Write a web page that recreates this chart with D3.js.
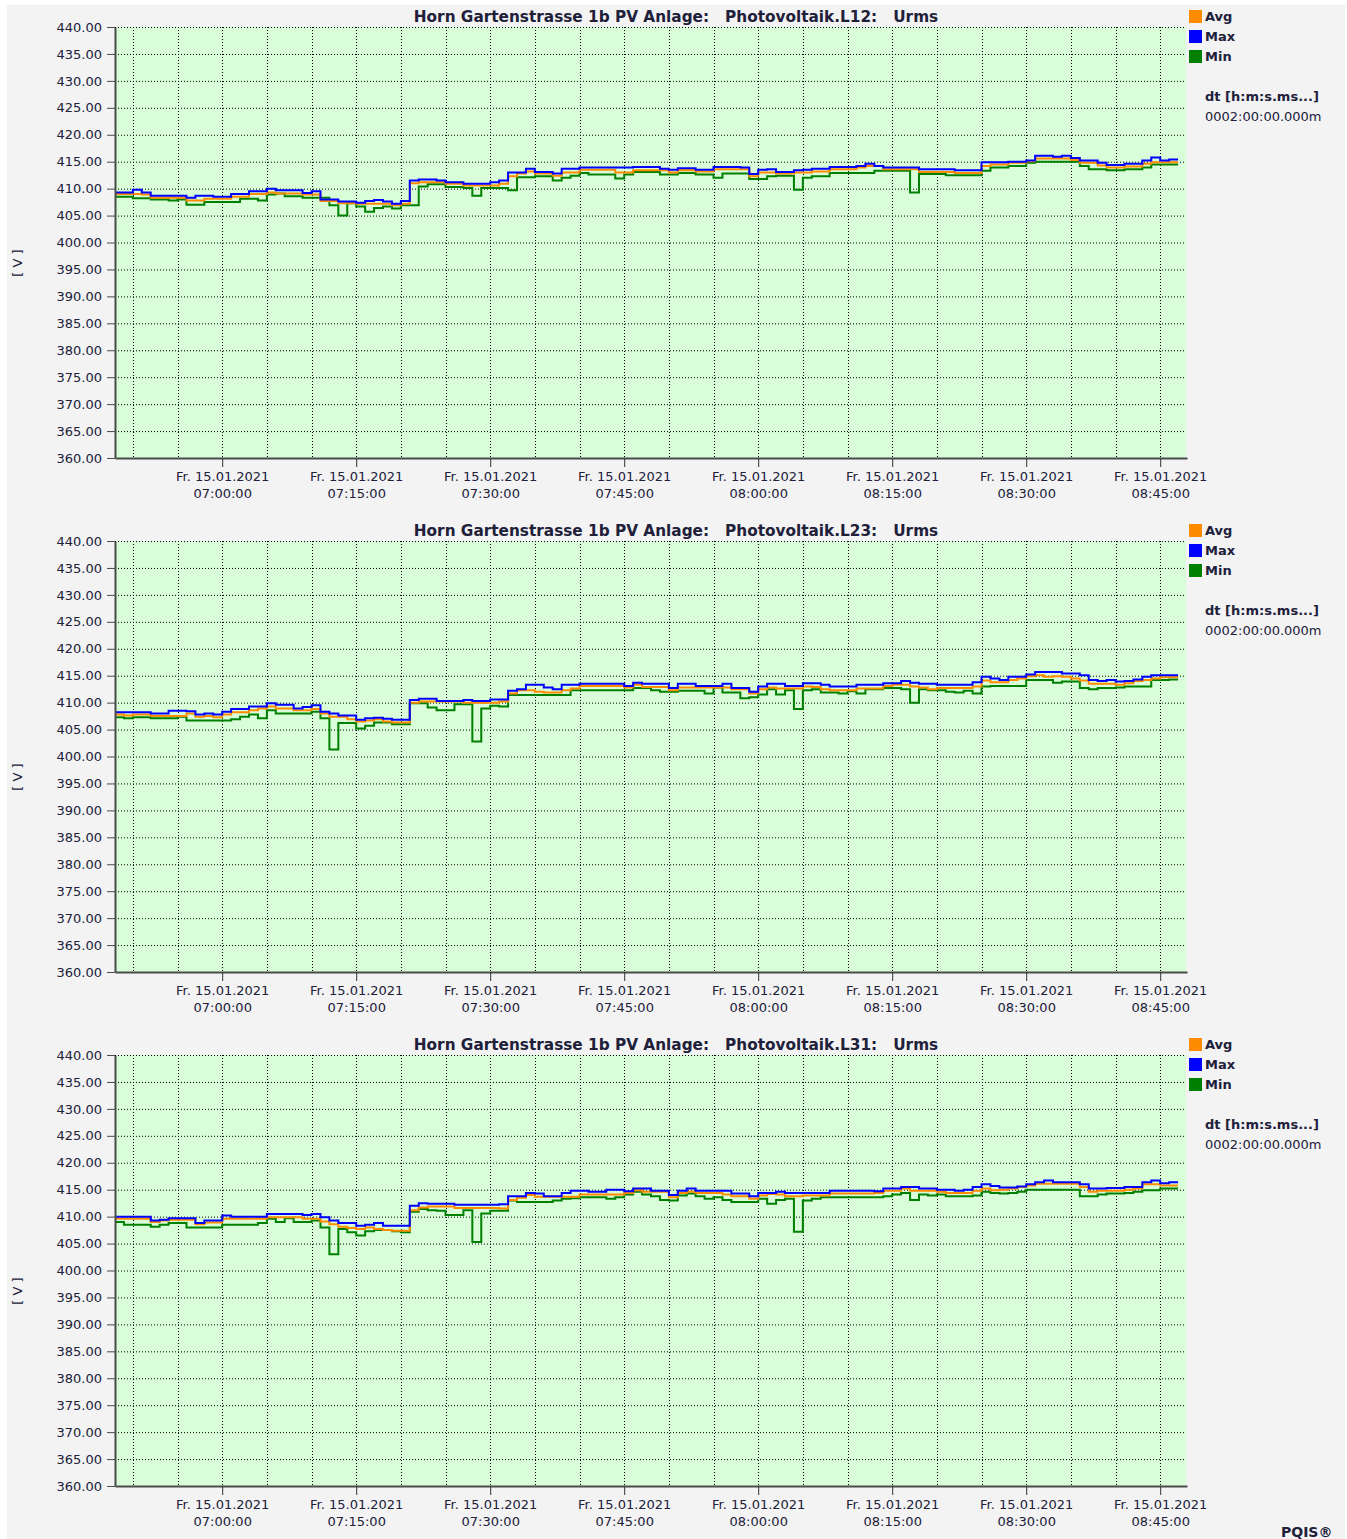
<!DOCTYPE html>
<html>
<head>
<meta charset="utf-8">
<script src="https://cdn.jsdelivr.net/npm/d3@7"></script>
<style>
  body { margin: 0; background: #fff; }
  svg text { font-family: "DejaVu Sans", sans-serif; fill: #20203a; }
</style>
</head>
<body>
<svg id="chart" width="1347" height="1539"></svg>
<script>
// Urms per minute, 15.01.2021 06:48 .. 08:47 (one value per minute)

const station = "Horn Gartenstrasse 1b PV Anlage:";
const quantity = "Urms";
const phases = ["Photovoltaik.L12", "Photovoltaik.L23", "Photovoltaik.L31"];
const seriesNames = ["Avg", "Max", "Min"];
const yTicks = [360, 365, 370, 375, 380, 385, 390, 395, 400, 405, 410, 415, 420, 425, 430, 435, 440];
const weekdays = ["So.", "Mo.", "Di.", "Mi.", "Do.", "Fr.", "Sa."];
const startTime = new Date(2021, 0, 15, 6, 48, 0);
const endTime = new Date(2021, 0, 15, 8, 48, 0);

const maxL12 = [
  409.3,409.3,409.8,409.3,408.7,408.7,408.7,408.7,408.3,408.7,
  408.7,408.5,408.5,409.0,409.0,409.5,409.5,410.0,409.7,409.7,
  409.7,409.2,409.5,408.0,408.0,407.6,407.6,407.4,407.7,407.9,
  407.6,407.2,407.7,411.5,411.7,411.7,411.5,411.2,411.2,410.9,
  410.9,410.9,411.2,411.5,413.0,413.0,413.7,413.1,413.1,412.8,
  413.7,413.7,413.9,413.9,413.9,413.9,413.9,413.9,414.0,414.0,
  414.0,413.7,413.5,413.8,413.8,413.5,413.5,414.0,414.0,414.0,
  413.9,412.7,413.5,413.6,413.1,413.1,413.4,413.5,413.7,413.7,
  414.0,414.0,414.0,414.2,414.6,414.2,413.9,413.9,413.9,413.9,
  413.6,413.6,413.6,413.6,413.4,413.4,413.4,414.9,414.9,414.9,
  415.0,415.0,415.2,416.1,416.1,415.9,416.1,415.7,415.2,415.2,
  414.8,414.4,414.4,414.6,414.6,415.2,415.8,415.2,415.4
];
const avgL12 = [
  409.0,409.0,409.0,408.9,408.3,408.3,408.3,408.3,407.8,407.8,
  408.1,408.1,408.1,408.5,408.5,409.0,409.0,409.3,409.1,409.1,
  409.1,408.9,408.9,407.7,407.7,407.3,407.3,407.2,407.2,407.2,
  407.2,406.9,407.2,411.0,411.2,411.2,411.2,410.9,410.9,410.6,
  410.6,410.6,410.6,410.9,412.3,412.8,413.2,412.8,412.8,412.4,
  413.0,413.0,413.5,413.5,413.5,413.5,413.0,413.0,413.4,413.4,
  413.4,413.4,413.0,413.4,413.4,413.2,413.2,413.6,413.6,413.6,
  413.6,412.3,413.0,413.0,412.8,412.8,413.0,413.0,413.2,413.2,
  413.6,413.6,413.6,413.9,414.2,414.2,413.6,413.6,413.6,413.6,
  413.1,413.1,413.1,413.1,412.9,412.9,412.9,414.2,414.5,414.5,
  414.8,414.8,415.1,415.6,415.6,415.6,415.6,415.3,414.8,414.8,
  414.3,413.9,413.9,414.1,414.1,414.6,414.9,414.9,414.9
];
const minL12 = [
  408.5,408.5,408.2,408.2,408.0,408.0,407.8,408.0,407.0,407.0,
  407.5,407.5,407.5,407.5,408.1,408.1,407.8,408.9,409.1,408.6,
  408.6,408.3,408.3,408.3,406.9,405.0,407.3,406.7,405.7,406.4,
  406.7,406.3,406.9,406.9,410.4,410.8,410.8,410.3,410.3,410.1,
  408.7,410.1,410.1,410.1,409.7,412.1,412.1,412.3,412.3,411.5,
  412.0,412.4,412.9,412.6,412.6,412.6,411.9,412.6,413.1,413.1,
  413.1,412.6,412.6,412.9,412.9,412.6,412.6,412.0,412.8,412.8,
  412.8,411.8,411.8,412.3,412.4,412.4,409.8,412.0,412.3,412.3,
  412.9,412.9,412.9,412.9,412.9,413.3,413.3,413.3,413.3,409.3,
  412.7,412.7,412.7,412.5,412.5,412.5,412.5,413.3,413.9,413.9,
  414.2,414.2,414.8,415.0,415.0,415.0,415.0,415.0,414.2,413.6,
  413.6,413.4,413.4,413.6,413.6,413.9,414.5,414.5,414.5
];

const maxL23 = [
  408.2,408.2,408.2,408.2,408.0,408.0,408.5,408.5,408.4,407.8,
  408.0,407.8,408.3,408.8,408.8,409.3,409.3,409.9,409.6,409.6,
  408.9,409.2,409.5,408.3,408.0,407.6,407.6,406.8,407.1,407.2,
  407.0,406.8,406.8,410.5,410.7,410.7,410.3,410.3,410.3,410.5,
  410.3,410.3,410.6,410.6,412.2,412.5,413.3,413.3,412.8,412.5,
  413.3,413.3,413.5,413.5,413.5,413.5,413.5,413.1,413.7,413.5,
  413.5,413.5,412.7,413.5,413.5,413.1,413.1,413.1,413.5,412.7,
  412.7,412.0,413.0,413.5,413.5,413.1,413.1,413.6,413.6,413.3,
  413.0,413.0,413.0,413.3,413.3,413.3,413.6,413.6,414.0,413.7,
  413.5,413.5,413.3,413.3,413.3,413.3,413.8,414.8,414.5,414.2,
  414.8,414.8,415.2,415.7,415.7,415.7,415.4,415.4,415.1,414.2,
  414.0,414.2,413.9,414.0,414.3,414.8,415.1,415.1,415.1
];
const avgL23 = [
  407.8,407.6,407.8,407.8,407.5,407.5,407.5,407.5,408.0,407.4,
  407.5,407.3,407.8,408.2,408.2,408.6,408.9,409.3,408.9,408.9,
  408.6,408.6,408.8,408.0,407.4,407.4,406.9,406.5,406.7,406.9,
  406.5,406.3,406.3,410.0,410.2,410.2,410.2,410.2,410.2,410.0,
  410.0,410.0,410.0,410.2,411.7,412.3,412.3,412.0,411.9,411.9,
  412.3,412.6,413.1,413.1,413.1,413.1,413.1,412.8,413.3,412.9,
  412.9,412.9,412.3,412.8,412.8,412.8,412.8,412.8,412.8,412.5,
  412.5,411.7,412.5,412.8,412.6,412.6,412.6,413.0,412.9,412.5,
  412.3,412.3,412.3,412.6,412.6,412.6,413.1,413.3,413.3,413.0,
  412.8,412.5,412.7,412.7,412.7,412.7,413.0,414.1,413.8,413.8,
  414.2,414.5,414.9,415.1,414.8,414.9,414.8,414.5,414.1,413.5,
  413.5,413.5,413.3,413.6,414.0,414.2,414.5,414.7,414.7
];
const minL23 = [
  407.3,407.1,407.3,407.3,407.1,407.1,407.1,407.4,406.7,406.7,
  406.7,406.7,406.7,406.9,407.4,407.8,407.1,408.6,408.0,408.0,
  408.0,408.0,408.3,407.1,401.3,406.2,406.2,405.2,405.7,406.3,
  406.3,406.0,406.0,409.9,409.9,409.1,408.6,408.6,409.7,409.7,
  402.8,408.9,409.4,409.3,411.4,411.4,411.4,411.4,411.4,411.4,
  411.4,412.3,412.3,412.3,412.3,412.3,412.3,412.3,412.7,412.7,
  412.3,412.0,412.0,412.2,412.2,412.2,411.7,412.8,411.9,411.9,
  410.8,411.0,411.5,412.5,411.5,412.3,408.8,412.3,412.5,411.9,
  411.9,411.7,412.1,411.7,412.5,412.5,412.7,412.7,412.5,410.0,
  412.5,412.3,412.3,412.0,411.9,412.2,411.7,413.0,413.1,413.1,
  413.1,413.1,414.2,414.2,414.2,413.7,413.9,413.9,412.7,412.5,
  412.7,412.7,412.8,413.0,413.0,413.0,414.2,414.2,414.3
];

const maxL31 = [
  410.0,410.0,410.0,410.0,409.3,409.4,409.7,409.7,409.7,408.8,
  409.3,409.3,410.2,410.0,410.0,410.0,410.0,410.5,410.5,410.5,
  410.5,410.3,410.5,409.9,409.3,408.8,408.8,408.3,408.5,408.8,
  408.3,408.3,408.3,412.0,412.5,412.4,412.4,412.4,412.2,412.2,
  412.2,412.2,412.2,412.3,413.8,413.8,414.4,414.3,413.8,413.8,
  414.4,414.8,414.8,414.6,414.6,415.0,415.0,414.7,415.2,415.2,
  414.8,414.8,414.0,414.8,415.2,414.8,414.8,414.8,414.8,414.3,
  414.3,413.8,414.4,414.4,414.6,414.4,414.4,414.4,414.4,414.4,
  414.8,414.8,414.8,414.8,414.8,414.7,415.2,415.2,415.5,415.5,
  415.2,415.2,415.0,415.0,414.8,415.0,415.5,416.0,415.7,415.4,
  415.4,415.6,416.0,416.4,416.7,416.4,416.4,416.4,416.0,415.2,
  415.2,415.3,415.3,415.5,415.5,416.4,416.7,416.2,416.4
];
const avgL31 = [
  409.6,409.6,409.6,409.6,409.0,409.3,409.4,409.4,409.4,408.6,
  408.9,408.9,409.6,409.6,409.6,409.6,409.6,409.9,409.9,409.9,
  409.9,409.6,409.6,409.1,408.6,408.1,407.9,407.7,408.0,407.7,
  407.5,407.4,407.4,411.2,411.7,411.9,411.9,411.9,411.6,411.6,
  411.6,411.6,411.6,411.5,413.1,413.5,414.0,413.7,413.7,413.7,
  413.7,413.7,414.1,414.1,414.1,414.1,414.1,414.4,414.9,414.6,
  414.6,414.6,413.6,414.4,414.6,414.4,414.4,414.4,414.1,413.8,
  413.8,413.3,413.9,414.2,414.1,413.8,413.8,413.9,413.9,413.9,
  414.3,414.3,414.3,414.3,414.3,414.4,414.8,414.8,415.2,414.8,
  414.8,414.8,414.6,414.4,414.4,414.4,414.8,415.2,414.9,415.0,
  415.2,415.5,415.8,416.1,416.1,416.1,416.1,416.1,415.5,414.6,
  414.8,414.8,414.8,415.0,415.2,416.0,416.0,415.8,415.8
];
const minL31 = [
  409.0,408.5,408.5,408.5,408.1,408.5,408.8,408.8,408.0,408.0,
  408.0,408.0,408.5,408.5,408.5,408.5,408.8,409.6,409.0,409.7,
  409.0,409.0,409.3,408.0,403.0,407.7,407.1,406.5,407.3,407.5,
  407.5,407.3,407.1,410.9,411.4,411.2,411.1,410.3,410.3,411.2,
  405.3,410.6,411.1,411.1,413.0,412.7,412.7,412.7,412.7,413.0,
  413.3,413.4,413.6,413.6,413.6,413.3,413.6,414.1,414.6,414.1,
  413.8,413.1,413.0,413.9,414.3,413.8,413.3,413.6,413.1,412.7,
  412.7,412.7,413.3,412.4,413.1,413.3,407.2,413.0,413.3,413.6,
  413.6,413.6,413.6,413.6,413.6,413.6,413.8,414.1,414.4,413.1,
  414.1,413.9,414.1,413.8,413.8,413.8,413.9,414.6,414.4,414.3,
  414.4,414.6,415.0,415.0,415.0,415.0,415.0,415.0,413.8,413.8,
  414.1,414.3,414.3,414.4,414.6,414.9,414.9,415.2,415.2
];

const charts = [
  { phase: phases[0], series: [avgL12, maxL12, minL12] },
  { phase: phases[1], series: [avgL23, maxL23, minL23] },
  { phase: phases[2], series: [avgL31, maxL31, minL31] }
];

// layout
const colors = { Avg: "#ff8c00", Max: "#0000ff", Min: "#008000" };
const left = 115, right = 1187;
const plotHeight = 431;
const chartTops = [27, 541, 1055];

const svg = d3.select("#chart");

// grey panel
svg.append("rect")
  .attr("x", 7).attr("y", 5)
  .attr("width", 1338).attr("height", 1539)
  .attr("fill", "#f3f3f3");

const x = d3.scaleTime().domain([startTime, endTime]).range([left, right]);
const y = d3.scaleLinear().domain([360, 440]).range([plotHeight, 0]);

const line = d3.line()
  .x(d => x(d[0]))
  .y(d => y(d[1]))
  .curve(d3.curveStepAfter);

// one point per minute, plus the end of the last step
function toPoints(vals) {
  const pts = vals.map((v, i) => [d3.timeMinute.offset(startTime, i), v]);
  pts.push([d3.timeMinute.offset(startTime, vals.length), vals[vals.length - 1]]);
  return pts;
}

const dateFmt = d3.timeFormat("%d.%m.%Y");
const timeFmt = d3.timeFormat("%H:%M:%S");

charts.forEach((chart, ci) => {
  const g = svg.append("g").attr("transform", `translate(0,${chartTops[ci]})`);

  g.append("rect")
    .attr("x", left).attr("y", 0)
    .attr("width", 1071).attr("height", plotHeight)
    .attr("fill", "#d9fdd9");

  // dotted grid
  g.append("g").selectAll("line")
    .data(yTicks.filter(t => t > 360))
    .enter().append("line")
    .attr("x1", left).attr("x2", left + 1071)
    .attr("y1", d => y(d) + 0.5).attr("y2", d => y(d) + 0.5)
    .attr("stroke", "#000").attr("stroke-dasharray", "1 2");

  g.append("g").selectAll("line")
    .data(x.ticks(d3.timeMinute.every(5)))
    .enter().append("line")
    .attr("x1", d => Math.round(x(d)) + 0.5).attr("x2", d => Math.round(x(d)) + 0.5)
    .attr("y1", 0).attr("y2", plotHeight)
    .attr("stroke", "#000").attr("stroke-dasharray", "1 2");

  // series, Min first so Max ends on top
  [2, 0, 1].forEach(si => {
    g.append("path")
      .datum(toPoints(chart.series[si]))
      .attr("d", line)
      .attr("fill", "none")
      .attr("stroke", colors[seriesNames[si]])
      .attr("stroke-width", 2);
  });

  // y axis
  const yAxis = g.append("g")
    .attr("transform", `translate(${left},0)`)
    .call(d3.axisLeft(y).tickValues(yTicks).tickFormat(d3.format(".2f"))
      .tickSize(8).tickSizeOuter(0).tickPadding(5));
  yAxis.select(".domain").attr("stroke", "#4a4a4a").attr("stroke-width", 2);
  yAxis.selectAll(".tick line").attr("stroke", "#4a4a4a");
  yAxis.selectAll("text").attr("font-size", 13).attr("font-family", "DejaVu Sans");

  // x axis
  const xAxis = g.append("g")
    .attr("transform", `translate(0,${plotHeight})`)
    .call(d3.axisBottom(x).ticks(d3.timeMinute.every(15)).tickFormat("")
      .tickSize(9).tickSizeOuter(0));
  xAxis.select(".domain").attr("stroke", "#4a4a4a").attr("stroke-width", 2);
  xAxis.selectAll(".tick line").attr("stroke", "#333");
  const lbl = xAxis.selectAll(".tick").append("text")
    .attr("text-anchor", "middle")
    .attr("font-size", 13)
    .attr("font-family", "DejaVu Sans");
  lbl.append("tspan").attr("x", 0).attr("y", 23)
    .text(d => `${weekdays[d.getDay()]} ${dateFmt(d)}`);
  lbl.append("tspan").attr("x", 0).attr("y", 40)
    .text(d => timeFmt(d));

  // unit
  g.append("text")
    .attr("transform", `translate(22,${236}) rotate(-90)`)
    .attr("text-anchor", "middle")
    .attr("font-size", 13)
    .style("white-space", "pre")
    .text("[ V ]");

  // title
  g.append("text")
    .attr("x", 676).attr("y", -5)
    .attr("text-anchor", "middle")
    .attr("font-size", 15.3).attr("font-weight", "bold")
    .style("white-space", "pre")
    .text(`${station}   ${chart.phase}:   ${quantity}`);

  // legend
  const leg = g.append("g").selectAll("g")
    .data(seriesNames)
    .enter().append("g")
    .attr("transform", (d, i) => `translate(1189,${-17 + i * 20})`);
  leg.append("rect")
    .attr("width", 13).attr("height", 13)
    .attr("fill", d => colors[d]);
  leg.append("text")
    .attr("x", 16).attr("y", 11)
    .attr("font-size", 13).attr("font-weight", "bold")
    .text(d => d);

  g.append("text")
    .attr("x", 1205).attr("y", 74)
    .attr("font-size", 13).attr("font-weight", "bold")
    .text("dt [h:m:s.ms...]");
  g.append("text")
    .attr("x", 1205).attr("y", 94)
    .attr("font-size", 13)
    .text("0002:00:00.000m");
});

svg.append("text")
  .attr("x", 1281).attr("y", 1537)
  .attr("font-size", 14).attr("font-weight", "bold")
  .text("PQIS®");
</script>
</body>
</html>
